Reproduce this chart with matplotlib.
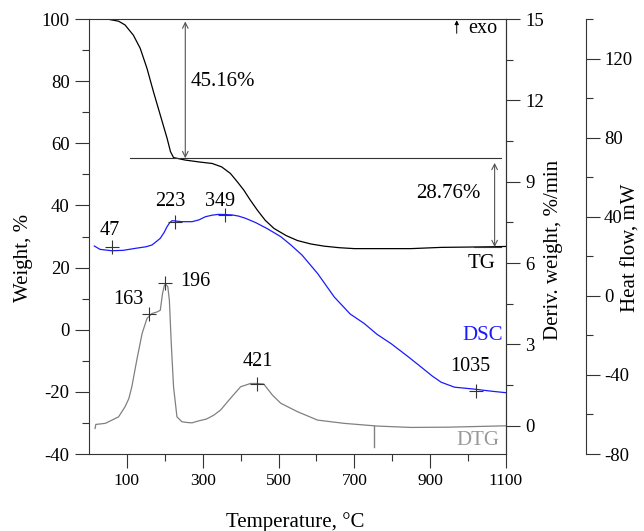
import matplotlib
matplotlib.use('Agg')
import matplotlib.pyplot as plt
from matplotlib.ticker import FixedLocator, MultipleLocator

plt.rcParams['font.family'] = ['Liberation Serif', 'DejaVu Serif']
plt.rcParams['axes.unicode_minus'] = False

# --- data ---
# TG: weight (%) vs temperature
tg_T = [47, 78, 95, 117, 135, 153, 170, 188, 206, 215, 223, 254, 290, 325, 350, 373,
        390, 408, 425, 444, 465, 488, 520, 550, 585, 620, 660, 700, 780, 849, 929, 1000, 1061, 1100]
tg_W = [100, 99.3, 98.1, 94.8, 90.6, 84.1, 76.6, 69.1, 61.6, 57.3, 55.4, 54.6, 54.0, 53.5, 52.4, 50.3,
        47.8, 45.0, 41.8, 38.5, 35.2, 32.6, 30.3, 28.7, 27.6, 26.9, 26.4, 26.1, 26.1, 26.1, 26.5, 26.6, 26.7, 26.8]

# DSC: heat flow (mW) vs temperature
dsc_T = [14, 29, 60, 90, 122, 150, 166, 178, 188, 198, 206, 213, 219, 230, 245, 272, 290, 307, 325,
         342, 360, 378, 395, 413, 440, 470, 506, 532, 562, 603, 647, 689, 726, 760, 797, 840, 876,
         905, 929, 964, 1017, 1060, 1100]
dsc_H = [25.2, 23.5, 22.8, 23.0, 24.0, 24.8, 25.7, 27.5, 29.1, 32.0, 35.0, 37.0, 38.0, 37.8, 37.5, 37.5,
         38.4, 40.0, 40.8, 41.2, 41.1, 40.9, 40.3, 39.2, 37.0, 34.0, 29.9, 25.8, 20.6, 11.3, -0.6, -9.2,
         -14.0, -19.5, -24.2, -30.5, -36.0, -40.5, -43.7, -46.2, -47.2, -48.2, -49.0]

# DTG: derivative weight (%/min) vs temperature
dtg_T = [16, 18, 43, 78, 95, 105, 113, 126, 140, 153, 166, 180, 188, 194, 199, 204, 208, 212, 217,
         223, 232, 245, 260, 272, 289, 310, 329, 347, 373, 400, 426, 444, 461, 484, 506, 550, 603,
         673, 761, 849, 950, 1100]
dtg_D = [-0.1, 0.05, 0.09, 0.33, 0.7, 1.0, 1.44, 2.42, 3.4, 3.96, 4.14, 4.2, 4.26, 4.88, 5.19, 5.2,
         5.12, 4.63, 3.04, 1.44, 0.33, 0.15, 0.12, 0.11, 0.18, 0.25, 0.39, 0.58, 1.01, 1.44, 1.56, 1.56,
         1.54, 1.13, 0.83, 0.52, 0.21, 0.09, -0.01, -0.06, -0.05, 0.0]

# peak markers
dsc_peaks_T = [60, 226, 360, 1021]
dsc_peaks_H = [24.5, 37.5, 40.9, -48.2]
dtg_peaks_T = [157, 201, 444]
dtg_peaks_D = [4.12, 5.27, 1.53]

peak_labels = ['47', '223', '349', '163', '196', '421', '1035']
peak_label_T = [56, 215, 347, 103, 281, 444, 1006]
peak_label_W = [31.9, 41.2, 41.2, 9.6, 15.4, -10.3, -11.9]

# step lines and mass losses
step_top, step_mid, step_bot = 100, 55.2, 26.6
loss1, loss2 = '45.16%', '28.76%'

spine_c = '#333333'

fig = plt.figure(figsize=(6.44, 5.31), dpi=100)
ax = fig.add_axes([0.1382, 0.145, 0.6475, 0.8192])
ax2 = ax.twinx()
ax3 = ax.twinx()

# left axis: weight
ax.set_xlim(0, 1100)
ax.set_ylim(-40, 100)
ax.xaxis.set_major_locator(FixedLocator([100, 300, 500, 700, 900, 1100]))
ax.xaxis.set_minor_locator(FixedLocator([200, 400, 600, 800, 1000]))
ax.yaxis.set_major_locator(MultipleLocator(20))
ax.yaxis.set_minor_locator(MultipleLocator(10))
ax.tick_params(axis='both', which='major', direction='out', length=10, width=0.8, color=spine_c, pad=4)
ax.tick_params(axis='both', which='minor', direction='out', length=5, width=0.8, color=spine_c)
ax.tick_params(axis='x', labelsize=12.5)
ax.tick_params(axis='y', labelsize=13.5)
for s in ax.spines.values():
    s.set_color(spine_c)
    s.set_linewidth(0.8)

# right axis 1: DTG
ax2.set_ylim(-1.04, 15)
ax2.yaxis.set_major_locator(MultipleLocator(3))
ax2.yaxis.set_minor_locator(FixedLocator([1.5, 4.5, 7.5, 10.5, 13.5]))
ax2.tick_params(axis='y', which='major', direction='out', length=10, width=0.8, color=spine_c, pad=4, labelsize=13.5)
ax2.tick_params(axis='y', which='minor', direction='out', length=5, width=0.8, color=spine_c)
for k in ['top', 'left', 'bottom']:
    ax2.spines[k].set_visible(False)
ax2.spines['right'].set_color(spine_c)
ax2.spines['right'].set_linewidth(0.8)

# right axis 2: DSC
ax3.spines['right'].set_position(('outward', 57.6))
ax3.set_ylim(-80, 140)
ax3.yaxis.set_major_locator(FixedLocator([-80, -40, 0, 40, 80, 120]))
ax3.yaxis.set_minor_locator(FixedLocator([-60, -20, 20, 60, 100, 140]))
ax3.tick_params(axis='y', which='major', direction='out', length=10, width=0.8, color=spine_c, pad=3, labelsize=13.5)
ax3.tick_params(axis='y', which='minor', direction='out', length=5, width=0.8, color=spine_c)
for k in ['top', 'left', 'bottom']:
    ax3.spines[k].set_visible(False)
ax3.spines['right'].set_color(spine_c)
ax3.spines['right'].set_linewidth(0.8)

# curves
ax.plot(tg_T, tg_W, color='black', lw=0.9)
ax2.plot(dtg_T, dtg_D, color='#808080', lw=0.9)
ax3.plot(dsc_T, dsc_H, color='#1a1aff', lw=0.9)

ax3.plot(dsc_peaks_T, dsc_peaks_H, '+', color='#333333', ms=10, mew=0.8)
ax2.plot(dtg_peaks_T, dtg_peaks_D, '+', color='#333333', ms=10, mew=0.8)
ax2.plot([752, 752], [0, -0.78], color='#808080', lw=1)

for lab, t, w in zip(peak_labels, peak_label_T, peak_label_W):
    ax.text(t, w, lab, ha='center', va='center', fontsize=14.5)

# step lines and arrows
ax.plot([109, 1088], [step_mid, step_mid], color='#333333', lw=0.8)
ax.plot([1016, 1088], [step_bot, step_bot], color='#333333', lw=0.8)
arr = dict(arrowstyle='<->', color='#555555', lw=0.8, shrinkA=0, shrinkB=0)
ax.annotate('', xy=(254, step_top - 0.8), xytext=(254, step_mid), arrowprops=arr)
ax.annotate('', xy=(1070, step_mid - 1.5), xytext=(1070, step_bot), arrowprops=arr)
ax.text(267, 79.8, loss1, ha='left', va='center', fontsize=15)
ax.text(949, 43.9, loss2, ha='center', va='center', fontsize=15)

ax.text(1035, 21.4, 'TG', ha='center', va='center', fontsize=15)
ax.text(1039, -2.0, 'DSC', ha='center', va='center', fontsize=15, color='#1a1aff')
ax.text(1026, -35.5, 'DTG', ha='center', va='center', fontsize=15, color='#999999')

ax.annotate('', xy=(970, 99.6), xytext=(970, 95.4),
            arrowprops=dict(arrowstyle='-|>', color='black', lw=0.7, mutation_scale=6, shrinkA=0, shrinkB=0))
ax.text(1000, 97.1, 'exo', ha='left', va='center', fontsize=14.5)

# axis labels
ax.set_xlabel('Temperature, °C', fontsize=15)
ax.xaxis.set_label_coords(0.494, -0.156)
ax.xaxis.label.set_va('center')
ax.set_ylabel('Weight, %', fontsize=15)
ax.yaxis.set_label_coords(-0.158, 0.45)
ax.yaxis.label.set_va('center')
ax2.set_ylabel('Deriv. weight, %/min', fontsize=15)
ax2.yaxis.set_label_coords(1.113, 0.469)
ax2.yaxis.label.set_va('center')
ax3.set_ylabel('Heat flow, mW', fontsize=15)
ax3.yaxis.set_label_coords(1.300, 0.474)
ax3.yaxis.label.set_va('center')

fig.savefig('out.png', dpi=100)
